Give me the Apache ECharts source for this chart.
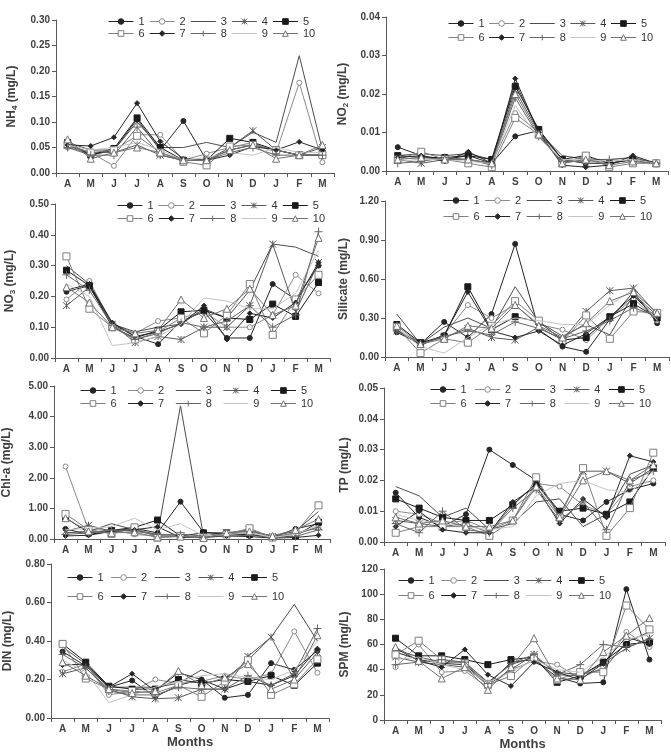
<!DOCTYPE html>
<html><head><meta charset="utf-8">
<script src="https://cdn.jsdelivr.net/npm/echarts@6/dist/echarts.min.js"></script>
<style>html,body{margin:0;padding:0;background:#fff}#c{width:671px;height:752px}</style>
</head><body><div id="c"></div><script>
const months = ['A','M','J','J','A','S','O','N','D','J','F','M'];
const seriesNames = ['1','2','3','4','5','6','7','8','9','10'];

const NH4 = [
 [0.055,0.035,0.045,0.105,0.045,0.102,0.025,0.045,0.055,0.045,0.035,0.035],
 [0.050,0.040,0.014,0.075,0.075,0.025,0.038,0.050,0.060,0.040,0.177,0.021],
 [0.060,0.045,0.045,0.100,0.050,0.050,0.060,0.050,0.080,0.060,0.230,0.045],
 [0.055,0.040,0.040,0.055,0.035,0.025,0.025,0.050,0.083,0.045,0.035,0.050],
 [0.060,0.035,0.048,0.108,0.050,0.025,0.025,0.068,0.060,0.045,0.035,0.035],
 [0.055,0.040,0.045,0.073,0.040,0.022,0.015,0.052,0.055,0.045,0.035,0.035],
 [0.055,0.053,0.070,0.137,0.062,0.028,0.025,0.035,0.052,0.045,0.061,0.045],
 [0.050,0.035,0.035,0.090,0.035,0.025,0.025,0.040,0.050,0.035,0.035,0.035],
 [0.055,0.045,0.050,0.060,0.045,0.025,0.030,0.040,0.035,0.050,0.040,0.040],
 [0.066,0.028,0.040,0.050,0.040,0.025,0.025,0.045,0.055,0.028,0.035,0.055]
];
const NO2 = [
 [0.0062,0.0040,0.0030,0.0040,0.0020,0.0090,0.0105,0.0030,0.0020,0.0020,0.0030,0.0020],
 [0.0035,0.0030,0.0030,0.0030,0.0020,0.0150,0.0100,0.0020,0.0030,0.0020,0.0030,0.0020],
 [0.0040,0.0045,0.0040,0.0045,0.0030,0.0230,0.0100,0.0040,0.0030,0.0030,0.0035,0.0020],
 [0.0030,0.0020,0.0030,0.0030,0.0020,0.0210,0.0100,0.0030,0.0020,0.0020,0.0030,0.0020],
 [0.0040,0.0035,0.0035,0.0040,0.0030,0.0220,0.0108,0.0030,0.0040,0.0020,0.0030,0.0020],
 [0.0030,0.0050,0.0030,0.0020,0.0010,0.0138,0.0095,0.0020,0.0040,0.0010,0.0020,0.0020],
 [0.0035,0.0040,0.0025,0.0050,0.0020,0.0240,0.0100,0.0015,0.0010,0.0015,0.0040,0.0020],
 [0.0020,0.0025,0.0035,0.0030,0.0015,0.0190,0.0090,0.0025,0.0025,0.0030,0.0025,0.0020],
 [0.0025,0.0030,0.0030,0.0025,0.0020,0.0170,0.0085,0.0030,0.0030,0.0025,0.0030,0.0020],
 [0.0030,0.0035,0.0030,0.0030,0.0020,0.0200,0.0095,0.0020,0.0030,0.0015,0.0025,0.0020]
];
const NO3 = [
 [0.215,0.235,0.110,0.070,0.045,0.120,0.150,0.065,0.065,0.240,0.190,0.300],
 [0.190,0.250,0.110,0.080,0.120,0.130,0.150,0.100,0.100,0.140,0.270,0.210],
 [0.300,0.240,0.110,0.085,0.100,0.110,0.160,0.130,0.220,0.370,0.360,0.330],
 [0.170,0.230,0.110,0.050,0.070,0.060,0.100,0.100,0.170,0.370,0.150,0.310],
 [0.285,0.235,0.100,0.065,0.090,0.150,0.155,0.130,0.125,0.175,0.135,0.245],
 [0.330,0.160,0.100,0.060,0.085,0.130,0.080,0.140,0.240,0.075,0.190,0.270],
 [0.220,0.240,0.115,0.070,0.085,0.110,0.170,0.060,0.145,0.130,0.180,0.310],
 [0.270,0.220,0.105,0.060,0.080,0.115,0.100,0.120,0.170,0.100,0.140,0.410],
 [0.240,0.200,0.040,0.050,0.070,0.110,0.195,0.185,0.160,0.160,0.210,0.350],
 [0.230,0.180,0.100,0.080,0.090,0.190,0.130,0.160,0.225,0.140,0.170,0.390]
];
const SILICATE = [
 [0.190,0.100,0.270,0.150,0.330,0.870,0.210,0.080,0.040,0.290,0.500,0.260],
 [0.220,0.090,0.170,0.400,0.300,0.400,0.250,0.210,0.130,0.300,0.450,0.280],
 [0.330,0.100,0.230,0.300,0.220,0.540,0.270,0.160,0.250,0.170,0.480,0.320],
 [0.200,0.110,0.150,0.220,0.150,0.130,0.230,0.130,0.350,0.510,0.530,0.330],
 [0.250,0.110,0.160,0.540,0.210,0.310,0.270,0.130,0.150,0.310,0.410,0.300],
 [0.230,0.030,0.140,0.110,0.240,0.430,0.280,0.120,0.320,0.140,0.350,0.340],
 [0.210,0.090,0.170,0.500,0.200,0.150,0.200,0.090,0.180,0.310,0.470,0.300],
 [0.200,0.100,0.160,0.200,0.170,0.270,0.220,0.140,0.200,0.280,0.380,0.310],
 [0.220,0.080,0.030,0.150,0.250,0.300,0.280,0.250,0.250,0.400,0.520,0.280],
 [0.240,0.100,0.140,0.240,0.220,0.400,0.240,0.150,0.260,0.430,0.500,0.340]
];
const CHLA = [
 [0.33,0.15,0.25,0.35,0.20,1.22,0.22,0.15,0.15,0.05,0.33,0.50],
 [2.37,0.30,0.30,0.15,0.10,0.10,0.05,0.15,0.20,0.05,0.20,0.35],
 [0.20,0.25,0.50,0.30,0.15,4.35,0.10,0.20,0.25,0.10,0.25,0.90],
 [0.25,0.45,0.25,0.30,0.10,0.10,0.05,0.20,0.30,0.08,0.15,0.40],
 [0.70,0.20,0.28,0.38,0.62,0.10,0.20,0.20,0.15,0.05,0.10,0.55],
 [0.82,0.30,0.17,0.38,0.05,0.10,0.05,0.15,0.35,0.05,0.20,1.10],
 [0.10,0.12,0.25,0.30,0.40,0.05,0.05,0.10,0.08,0.03,0.05,0.12],
 [0.15,0.20,0.30,0.25,0.15,0.15,0.10,0.10,0.12,0.05,0.08,0.30],
 [0.30,0.35,0.40,0.68,0.30,0.50,0.10,0.15,0.20,0.05,0.15,0.45],
 [0.68,0.25,0.20,0.22,0.05,0.08,0.03,0.20,0.25,0.10,0.30,0.65]
];
const TP = [
 [0.016,0.008,0.005,0.009,0.030,0.025,0.020,0.009,0.007,0.013,0.017,0.019],
 [0.010,0.009,0.006,0.007,0.004,0.007,0.019,0.018,0.012,0.009,0.018,0.020],
 [0.018,0.015,0.008,0.011,0.004,0.006,0.013,0.014,0.005,0.009,0.022,0.025],
 [0.007,0.006,0.005,0.006,0.003,0.012,0.019,0.009,0.023,0.023,0.019,0.024],
 [0.014,0.011,0.008,0.007,0.007,0.012,0.019,0.010,0.011,0.009,0.013,0.024],
 [0.003,0.005,0.005,0.005,0.002,0.007,0.021,0.008,0.024,0.002,0.011,0.029],
 [0.005,0.010,0.004,0.003,0.003,0.013,0.018,0.006,0.014,0.008,0.028,0.026],
 [0.006,0.003,0.010,0.004,0.003,0.011,0.017,0.007,0.013,0.004,0.020,0.023],
 [0.009,0.007,0.006,0.005,0.004,0.005,0.015,0.019,0.020,0.017,0.016,0.023],
 [0.008,0.006,0.007,0.005,0.005,0.007,0.018,0.008,0.020,0.023,0.020,0.025]
];
const DIN = [
 [0.345,0.270,0.160,0.195,0.110,0.170,0.200,0.105,0.120,0.285,0.250,0.350],
 [0.240,0.280,0.120,0.140,0.200,0.180,0.190,0.220,0.200,0.230,0.450,0.235],
 [0.370,0.280,0.160,0.160,0.160,0.180,0.250,0.200,0.300,0.420,0.590,0.400],
 [0.230,0.260,0.150,0.110,0.100,0.105,0.150,0.150,0.320,0.420,0.200,0.340],
 [0.385,0.290,0.165,0.150,0.150,0.200,0.180,0.200,0.190,0.220,0.170,0.285],
 [0.385,0.205,0.150,0.140,0.130,0.170,0.110,0.190,0.300,0.120,0.175,0.305],
 [0.275,0.280,0.160,0.230,0.140,0.235,0.200,0.150,0.190,0.170,0.220,0.360],
 [0.330,0.260,0.140,0.120,0.120,0.160,0.150,0.150,0.220,0.170,0.230,0.465],
 [0.300,0.240,0.080,0.120,0.160,0.190,0.220,0.230,0.210,0.200,0.250,0.400],
 [0.290,0.220,0.150,0.130,0.140,0.245,0.170,0.210,0.280,0.150,0.200,0.430]
];
const SPM = [
 [54,48,45,44,28,46,48,34,29,30,104,48],
 [42,60,38,39,26,40,47,44,33,42,70,58],
 [56,50,46,46,30,44,50,38,36,40,62,70],
 [50,46,44,42,28,40,52,36,35,45,57,65],
 [65,51,51,48,44,48,50,30,35,46,60,62],
 [52,63,48,45,28,35,50,32,38,38,91,72],
 [57,47,42,56,36,27,46,38,32,45,66,60],
 [44,46,48,46,29,45,52,36,44,60,58,64],
 [48,50,44,40,30,38,48,40,38,50,64,68],
 [58,47,33,42,24,42,65,33,32,54,67,81]
];

const FONT = 'Liberation Sans, Arial, sans-serif';
const TXT = '#404040';
const ASTER = 'path://M0,0L10,10M10,0L0,10M5,0L5,10';
const PLUS = 'path://M5,0L5,10M0,5L10,5';
const CLEAR = 'rgba(0,0,0,0)';
const styles = [
 {c:'#262626', sym:'circle', size:5, fill:'#262626'},
 {c:'#8a8a8a', sym:'circle', size:5, fill:'#ffffff'},
 {c:'#4d4d4d', sym:'none'},
 {c:'#595959', sym:ASTER, size:7, fill:CLEAR},
 {c:'#1a1a1a', sym:'rect', size:6, fill:'#1a1a1a'},
 {c:'#7f7f7f', sym:'rect', size:7, fill:'#ffffff'},
 {c:'#262626', sym:'diamond', size:5, fill:'#262626'},
 {c:'#666666', sym:PLUS, size:8, fill:CLEAR},
 {c:'#c4c4c4', sym:'none'},
 {c:'#737373', sym:'triangle', size:7, fill:'#ffffff'}
];

const panels = [
 {data:NH4, name:'{b|NH}{s|4}{b| (mg/L)}', max:0.30, interval:0.05, dec:2, grid:[56,20,278,153], nameGap:37, leg:[108,23,35,4.5]},
 {data:NO2, name:'{b|NO}{s|2}{b| (mg/L)}', max:0.04, interval:0.01, dec:2, grid:[386,17,282,154], nameGap:36, leg:[448,25,39,4]},
 {data:NO3, name:'{b|NO}{s|3}{b| (mg/L)}', max:0.50, interval:0.10, dec:2, grid:[55,204,275,154], nameGap:38, leg:[117,207,220,4.7]},
 {data:SILICATE, name:'{b|Silicate (mg/L)}', max:1.20, interval:0.30, dec:2, grid:[385,201,284,156], nameGap:34, leg:[443,202,218,5]},
 {data:CHLA, name:'{b|Chl-a (mg/L)}', max:5.00, interval:1.00, dec:2, grid:[54,386,276,153], nameGap:40, leg:[80,392,405,11]},
 {data:TP, name:'{b|TP (mg/L)}', max:0.05, interval:0.01, dec:2, grid:[384,388,281,154], nameGap:32, leg:[430,391,405,8]},
 {data:DIN, name:'{b|DIN (mg/L)}', max:0.80, interval:0.20, dec:2, grid:[51,564,278,154], nameGap:36, leg:[67,579,598,7], xname:true},
 {data:SPM, name:'{b|SPM (mg/L)}', max:120, interval:20, dec:0, grid:[384,569,277,152], nameGap:32, leg:[398,582,597,6], xname:true}
];

const option = {animation:false, backgroundColor:'#fff', textStyle:{fontFamily:FONT},
  grid:[], xAxis:[], yAxis:[], legend:[], series:[]};

panels.forEach((p, gi) => {
  option.grid.push({left:p.grid[0], top:p.grid[1], width:p.grid[2], height:p.grid[3], containLabel:false});
  option.xAxis.push({type:'category', gridIndex:gi, data:months, boundaryGap:true,
    name: p.xname ? 'Months' : '', nameLocation:'middle', nameGap:18,
    nameTextStyle:{fontFamily:FONT, fontWeight:'bold', fontSize:13, color:TXT},
    axisLine:{lineStyle:{color:'#595959', width:1}},
    axisTick:{show:true, inside:false, length:4, alignWithLabel:false, lineStyle:{color:'#595959'}},
    axisLabel:{fontFamily:FONT, fontWeight:'bold', fontSize:10, color:TXT, margin:6, interval:0},
    splitLine:{show:false}});
  option.yAxis.push({type:'value', gridIndex:gi, min:0, max:p.max, interval:p.interval,
    name:p.name, nameLocation:'middle', nameGap:p.nameGap, nameRotate:90,
    nameTextStyle:{rich:{
      b:{fontFamily:FONT, fontWeight:'bold', fontSize:12, color:TXT, lineHeight:14},
      s:{fontFamily:FONT, fontWeight:'bold', fontSize:8, color:TXT, verticalAlign:'bottom', lineHeight:14, padding:[5,0,0,0]}}},
    axisLine:{show:true, lineStyle:{color:'#595959', width:1}},
    axisTick:{show:true, inside:false, length:4, lineStyle:{color:'#595959'}},
    axisLabel:{fontFamily:FONT, fontWeight:'bold', fontSize:10, color:TXT, margin:6,
      formatter: v => v.toFixed(p.dec)},
    splitLine:{show:false}});
  [seriesNames.slice(0,5), seriesNames.slice(5)].forEach((names, r) => {
    option.legend.push({data:names, left:p.leg[0], top:(r===0?p.leg[1]:p.leg[2]) - 7, orient:'horizontal',
      padding:0, itemWidth:25, itemHeight:7, itemGap:p.leg[3], selectedMode:false,
      itemStyle:{borderWidth:1}, lineStyle:{width:1},
      textStyle:{fontFamily:FONT, fontSize:11, color:'#333', width:10}});
  });
  p.data.forEach((vals, si) => {
    const st = styles[si];
    const none = st.sym === 'none';
    option.series.push({type:'line', name:seriesNames[si], xAxisIndex:gi, yAxisIndex:gi,
      data:vals, symbol: none ? 'circle' : st.sym, symbolSize: none ? 0 : st.size, showSymbol: !none,
      lineStyle:{color:st.c, width:1},
      itemStyle: none ? {color:CLEAR, borderColor:CLEAR, borderWidth:0}
                      : {color:st.fill, borderColor:st.c, borderWidth:1, opacity:1},
      emphasis:{disabled:true}, silent:true, z:2+si});
  });
});

const chart = echarts.init(document.getElementById('c'), null, {renderer:'canvas'});
chart.setOption(option);
</script></body></html>
